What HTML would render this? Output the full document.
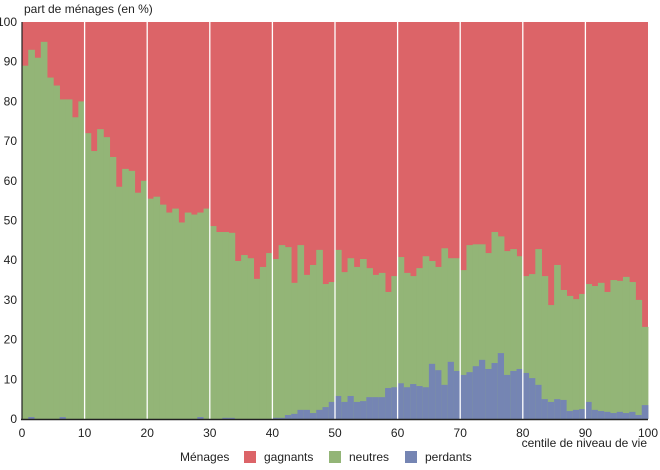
<!DOCTYPE html>
<html><head><meta charset="utf-8"><style>
body{margin:0;background:#fff;}
svg{display:block;font-family:"Liberation Sans",sans-serif;}
</style></head><body>
<svg id="s" width="660" height="470" xmlns="http://www.w3.org/2000/svg">
<rect x="22" y="22" width="626" height="397" fill="#dc6468"/>
<g id="bars"></g>
<g id="grid" stroke="#fff" stroke-width="1.3"></g>
<line x1="22" y1="22" x2="22" y2="419.5" stroke="#222" stroke-width="1.2"/>
<line x1="21" y1="419.5" x2="648" y2="419.5" stroke="#222" stroke-width="1.5"/>
<g id="yl" font-size="12" fill="#222" text-anchor="end"></g>
<g id="xl" font-size="12" fill="#222" text-anchor="middle"></g>
<text x="24" y="13" font-size="12" fill="#222">part de ménages (en %)</text>
<text x="647" y="447" font-size="12" fill="#222" text-anchor="end">centile de niveau de vie</text>
<text x="180" y="461" font-size="12" fill="#222">Ménages</text>
<rect x="244" y="451" width="12" height="12" fill="#dc6468"/><text x="264" y="461" font-size="12" fill="#222">gagnants</text>
<rect x="329" y="451" width="12" height="12" fill="#93b577"/><text x="349" y="461" font-size="12" fill="#222">neutres</text>
<rect x="405" y="451" width="12" height="12" fill="#7585b3"/><text x="425" y="461" font-size="12" fill="#222">perdants</text>
</svg>
<script>
var g=[89,93,91,95,86,84,80.5,80.5,76,80,72,67.5,73,71,66,58.5,63,62.5,57,60,55.5,56,54,52,53,49.5,52,51.5,52,53,
48.6,47.1,47.1,46.9,39.8,41.3,40.5,35.3,38.3,41.8,40.3,43.8,43.3,34.3,43.8,36.3,38.8,42.6,34,34.5,
42.6,37,40.5,38.3,40.3,38,36.3,36.8,32,36,40.8,36.8,36,38,41,39.8,38.3,43,40.5,40.5,
37.5,43.8,44,44,41.8,47.1,46,42.3,42.8,41,36,36.5,42.8,36,28.7,38.8,32.5,31,30.2,31.5,
34,33.5,34.3,32,35,34.8,35.8,34.5,30,23.2];
var b=[0,0.5,0,0,0,0,0.5,0,0,0,0,0,0,0,0,0,0,0,0,0,0,0,0,0,0,0,0,0,0.5,0,
0,0,0.3,0.3,0,0,0,0,0,0,0.3,0.3,1,1.3,2.3,2.3,1.5,2.3,3,4.3,
5.8,4.3,5.8,4.3,4.5,5.5,5.5,5.5,7.8,8,9,8,8.8,8.3,8,13.9,12.3,8.6,14.4,12.1,
11.1,11.8,13.3,14.9,12.6,14.1,16.6,11.1,12.1,12.6,11.6,10.3,8.6,5,4.3,5,4.8,2,2.3,2.5,
4.3,2.3,2,1.8,1.5,1.8,1.5,1.8,1,3.5];
var NS="http://www.w3.org/2000/svg",bars=document.getElementById('bars'),w=6.26,k=3.97,y0=419;
function R(x,y,ww,h,f){var r=document.createElementNS(NS,'rect');r.setAttribute('x',x);r.setAttribute('y',y);r.setAttribute('width',ww);r.setAttribute('height',h);r.setAttribute('fill',f);bars.appendChild(r);}
for(var i=0;i<100;i++){var x=22+i*w;R(x,y0-g[i]*k,w+0.4,g[i]*k,'#93b577');if(b[i]>0)R(x,y0-b[i]*k,w+0.4,b[i]*k,'#7585b3');}
var gr=document.getElementById('grid'),yl=document.getElementById('yl'),xl=document.getElementById('xl');
for(var j=0;j<=10;j++){var x=22+j*62.6;
 if(j>0&&j<10){var l=document.createElementNS(NS,'line');l.setAttribute('x1',x);l.setAttribute('x2',x);l.setAttribute('y1',22);l.setAttribute('y2',419);gr.appendChild(l);}
 var t=document.createElementNS(NS,'text');t.setAttribute('x',x);t.setAttribute('y',437);t.textContent=j*10;xl.appendChild(t);
 var t2=document.createElementNS(NS,'text');t2.setAttribute('x',17);t2.setAttribute('y',y0-j*39.7+4);t2.textContent=j*10;yl.appendChild(t2);}
</script>
</body></html>
